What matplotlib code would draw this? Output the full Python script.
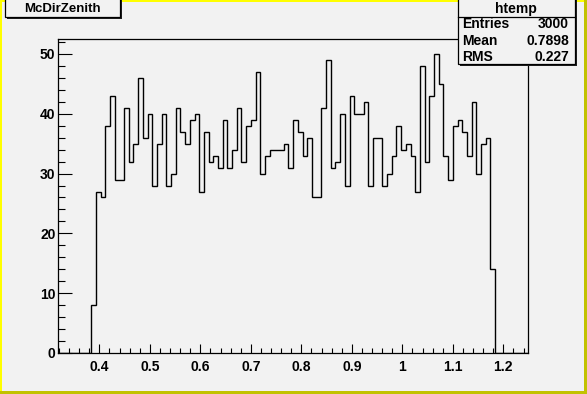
import numpy as np
import matplotlib
matplotlib.use('Agg')
import matplotlib.pyplot as plt
from matplotlib.patches import Rectangle
from matplotlib.ticker import FixedLocator, MultipleLocator, FuncFormatter

plt.rcParams['font.family'] = ['Liberation Sans', 'DejaVu Sans']
plt.rcParams['font.weight'] = 'bold'

# histogram definition (htemp from tree draw)
n_bins = 100
x_low = 0.3188
x_high = 1.2489
first_filled_bin = 7
filled_counts = [
    8, 27, 26, 38, 43, 29, 29, 41, 32, 35, 46, 36, 40, 28, 35, 40, 28, 30, 41, 37, 35, 39, 40,
    27, 37, 32, 33, 31, 39, 31, 34, 41, 32, 38, 39, 47, 30, 33, 34, 34, 34, 35, 31, 39, 37, 33,
    36, 26, 26, 41, 49, 31, 32, 40, 28, 43, 40, 40, 42, 28, 36, 36, 28, 30, 33, 38, 34, 35,
    33, 27, 48, 32, 43, 50, 45, 33, 29, 38, 39, 37, 33, 42, 30, 35, 36, 14,
]
x_major_ticks = [0.4, 0.5, 0.6, 0.7, 0.8, 0.9, 1.0, 1.1, 1.2]
y_major_ticks = [0, 10, 20, 30, 40, 50]
hist_title = 'McDirZenith'
stats_name = 'htemp'
stats_rows = [('Entries', '3000'), ('Mean', '0.7898'), ('RMS', '0.227')]

W, H = 587, 394
BG = '#f2f2f2'


def px(x, y):
    return x / W, 1 - y / H


counts = np.zeros(n_bins)
counts[first_filled_bin:first_filled_bin + len(filled_counts)] = filled_counts
edges = np.linspace(x_low, x_high, n_bins + 1)

fig = plt.figure(figsize=(W / 100, H / 100), dpi=100)
fig.patch.set_facecolor(BG)

# canvas border: light top/left, dark bottom/right
tr = fig.transFigure
fig.patches.append(Rectangle((0, 0), 1, 1, transform=tr, facecolor='#ffff00', edgecolor='none', zorder=-10))
fig.patches.append(Rectangle((0, 0), 1, 3 / H, transform=tr, facecolor='#c2c200', edgecolor='none', zorder=-10))
fig.patches.append(Rectangle((1 - 3 / W, 0), 3 / W, 1, transform=tr, facecolor='#c2c200', edgecolor='none', zorder=-10))
fig.patches.append(Rectangle((2 / W, 3 / H), 1 - 5 / W, 1 - 5 / H, transform=tr, facecolor=BG, edgecolor='none', zorder=-10))

left, right, top, bottom = 58.3, 528, 39, 353
ax = fig.add_axes([left / W, 1 - bottom / H, (right - left) / W, (bottom - top) / H])
ax.set_facecolor(BG)
ax.stairs(counts, edges, color='black', linewidth=1.0, baseline=0)
ax.set_xlim(x_low, x_high)
ax.set_ylim(0, 1.05 * max(filled_counts))

ax.xaxis.set_major_locator(FixedLocator(x_major_ticks))
ax.xaxis.set_minor_locator(MultipleLocator(0.02))
ax.xaxis.set_major_formatter(FuncFormatter(lambda v, p: f'{v:g}'))
ax.yaxis.set_major_locator(FixedLocator(y_major_ticks))
ax.yaxis.set_minor_locator(MultipleLocator(2))

ax.tick_params(axis='both', which='both', direction='in', top=False, right=False, width=0.8)
ax.tick_params(axis='x', which='major', length=6.5, pad=5, labelsize=10)
ax.tick_params(axis='x', which='minor', length=3.3)
ax.tick_params(axis='y', which='major', length=10, pad=2, labelsize=10)
ax.tick_params(axis='y', which='minor', length=5)
for lbl in ax.get_xticklabels() + ax.get_yticklabels():
    lbl.set_fontweight('bold')
for sp in ax.spines.values():
    sp.set_linewidth(0.9)


def box(x0, y0, x1, y1):
    (fx0, fy1), (fx1, fy0) = px(x0, y0), px(x1, y1)
    shadow = Rectangle((fx0 + 2 / W, fy0 - 2 / H), fx1 - fx0, fy1 - fy0, transform=tr,
                       facecolor='#202020', edgecolor='none', zorder=5)
    face = Rectangle((fx0, fy0), fx1 - fx0, fy1 - fy0, transform=tr,
                     facecolor=BG, edgecolor='black', linewidth=0.9, zorder=6)
    fig.patches.extend([shadow, face])


# title box
box(5, -2, 120, 16.5)
fig.text(*px(62.5, 8.5), hist_title, ha='center', va='center', fontsize=9.5, fontweight='bold', zorder=7)

# stats box
box(457.5, -2, 575, 64)
fig.add_artist(plt.Line2D([457.5 / W, 575 / W], [1 - 17.3 / H] * 2, transform=tr, color='black', linewidth=0.9, zorder=7))
fig.text(*px(516, 9), stats_name, ha='center', va='center', fontsize=10, fontweight='bold', zorder=7)
for i, (name, val) in enumerate(stats_rows):
    y = 24.5 + i * 16.2
    fig.text(*px(462, y), name, ha='left', va='center', fontsize=10, fontweight='bold', zorder=7)
    fig.text(*px(569, y), val, ha='right', va='center', fontsize=10, fontweight='bold', zorder=7)

fig.savefig('out.png', dpi=100, facecolor=fig.get_facecolor())
